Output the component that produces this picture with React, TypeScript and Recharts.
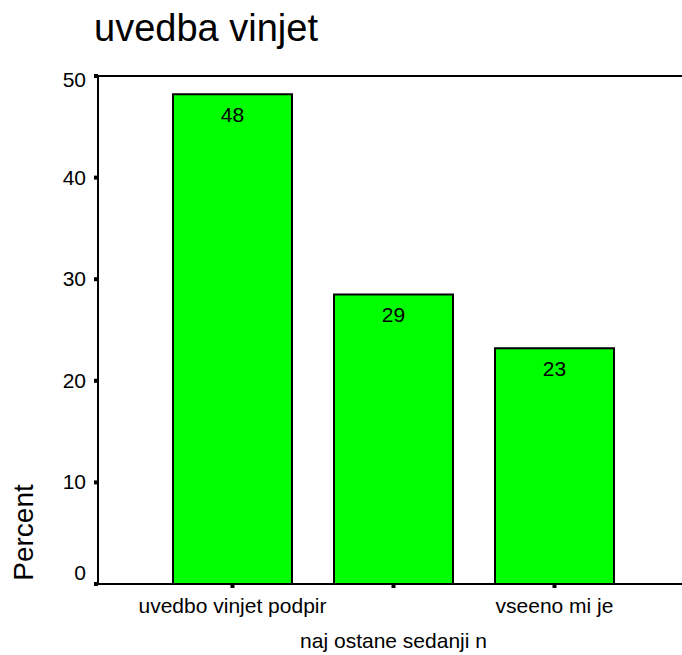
import React from "react";
import { BarChart, Bar, XAxis, YAxis, ReferenceLine, LabelList } from "recharts";

const categories = ["uvedbo vinjet podpir", "naj ostane sedanji n", "vseeno mi je"];
const percentValues = [48.2, 28.5, 23.2];
const yTicks = [0, 10, 20, 30, 40, 50];
const chartTitle = "uvedba vinjet";
const yAxisTitle = "Percent";

const data = categories.map((c, i) => ({ category: c, percent: percentValues[i] }));

const FONT = "'Liberation Sans', Arial, Helvetica, sans-serif";

const YTick = (props: any) => {
  const { x, y, payload } = props;
  let dy = 7;
  if (payload.value === 0) dy = -4;
  if (payload.value === 50) dy = 11;
  return (
    <text x={x} y={y + dy} textAnchor="end" fontFamily={FONT} fontSize={21} fill="#000">
      {payload.value}
    </text>
  );
};

const XTick = (props: any) => {
  const { x, y, payload, index } = props;
  const dy = index % 2 === 1 ? 60 : 25;
  return (
    <text x={x} y={y + dy} textAnchor="middle" fontFamily={FONT} fontSize={21} fill="#000">
      {payload.value}
    </text>
  );
};

const renderLabel = (props: any) => {
  const { x, y, width, value } = props;
  return (
    <text x={Number(x) + Number(width) / 2} y={Number(y) + 28} textAnchor="middle" fontFamily={FONT} fontSize={21} fill="#000">
      {Math.round(Number(value))}
    </text>
  );
};

export default function App() {
  return (
    <div style={{ position: "absolute", left: 0, top: 0, width: 682, height: 655, overflow: "hidden", background: "#fff" }}>
      <BarChart
        width={720}
        height={655}
        data={data}
        margin={{ top: 76, right: 0, left: 38, bottom: 31 }}
      >
        <ReferenceLine y={50} stroke="#000" strokeWidth={2} />
        <XAxis
          dataKey="category"
          type="category"
          interval={0}
          height={40}
          padding={{ left: 54, right: 85 }}
          axisLine={{ stroke: "#000", strokeWidth: 2 }}
          tickLine={{ stroke: "#000", strokeWidth: 4 }}
          tickSize={4}
          tickMargin={0}
          tick={<XTick />}
        />
        <YAxis
          type="number"
          domain={[0, 50]}
          ticks={yTicks}
          interval={0}
          width={60}
          axisLine={{ stroke: "#000", strokeWidth: 2 }}
          tickLine={{ stroke: "#000", strokeWidth: 4 }}
          tickSize={4}
          tickMargin={8}
          tick={<YTick />}
        />
        <Bar dataKey="percent" fill="#00ff00" stroke="#000" strokeWidth={2} barSize={119} isAnimationActive={false}>
          <LabelList dataKey="percent" content={renderLabel} />
        </Bar>
      </BarChart>
      <svg width={682} height={655} style={{ position: "absolute", left: 0, top: 0, pointerEvents: "none" }}>
        <text x={94} y={41} fontFamily={FONT} fontSize={38} fill="#000">
          {chartTitle}
        </text>
        <text
          transform="translate(33,532.5) rotate(-90)"
          textAnchor="middle"
          fontFamily={FONT}
          fontSize={28}
          fill="#000"
        >
          {yAxisTitle}
        </text>
      </svg>
    </div>
  );
}
